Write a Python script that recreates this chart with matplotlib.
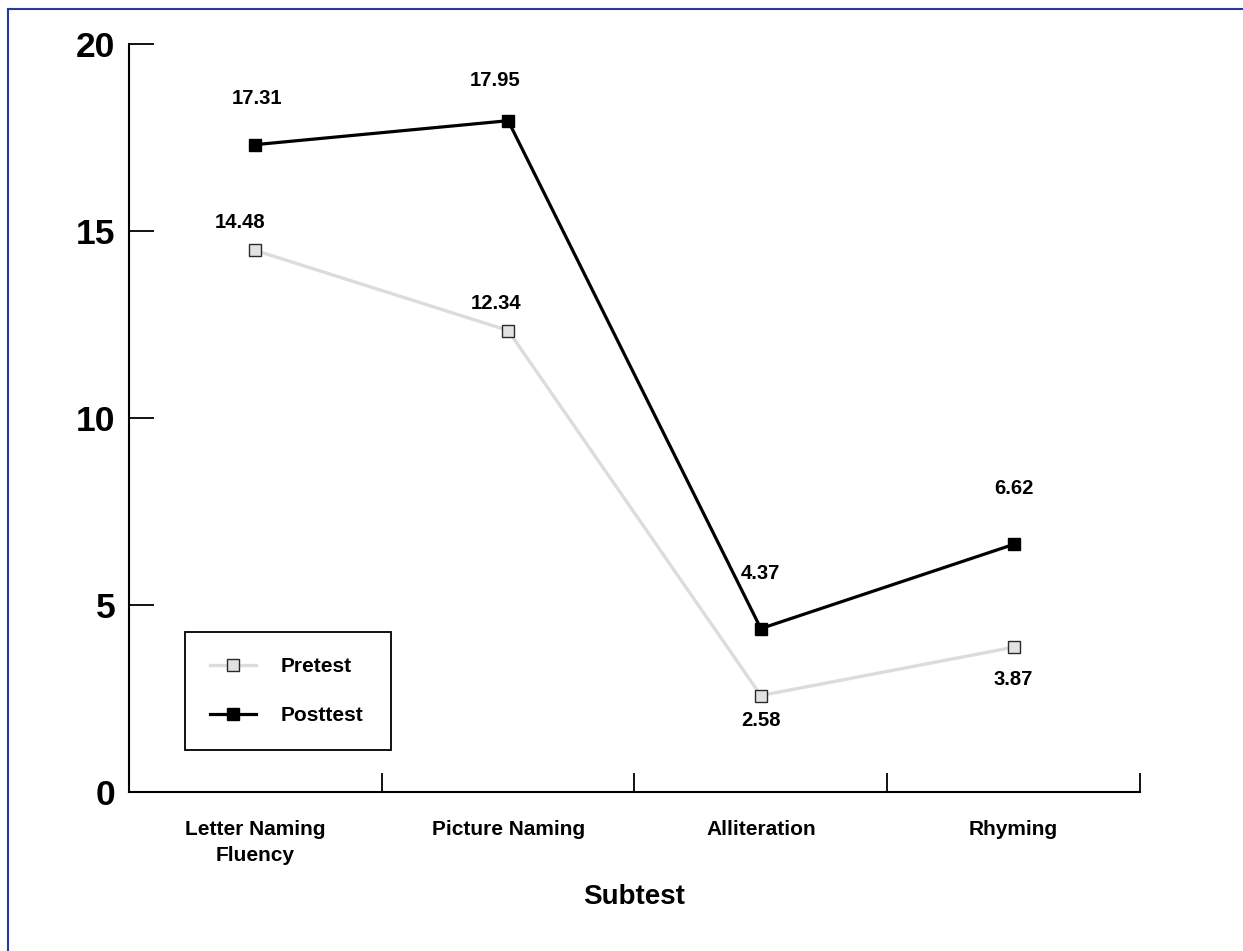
#!/usr/bin/env python3

import matplotlib

matplotlib.use("Agg")
import matplotlib.pyplot as plt
from matplotlib.lines import Line2D

subtests = ["Letter Naming\nFluency", "Picture Naming", "Alliteration", "Rhyming"]
pretest = [14.48, 12.34, 2.58, 3.87]
posttest = [17.31, 17.95, 4.37, 6.62]
y_ticks = [0, 5, 10, 15, 20]

# label offsets in pixels (dx, dy) relative to each marker
pre_offsets = [(-15, 28), (-12, 27), (0, -25), (0, -32)]
post_offsets = [(2, 46), (-13, 40), (0, 55), (0, 56)]

plt.rcParams["font.family"] = ["Liberation Sans", "DejaVu Sans"]
plt.rcParams["font.weight"] = "bold"

fig = plt.figure(figsize=(12.43, 9.51), dpi=100)
ax = fig.add_axes([0.1038, 0.1672, 0.8133, 0.7865])

x = list(range(len(subtests)))
ax.plot(x, pretest, color="#dcdcdc", linewidth=2.4, marker="s", markersize=9.2,
        markerfacecolor="#e2e2e4", markeredgecolor="#2a2a2a", markeredgewidth=1.0,
        label="Pretest", zorder=3)
ax.plot(x, posttest, color="black", linewidth=2.3, marker="s", markersize=8.8,
        markerfacecolor="black", markeredgecolor="black", label="Posttest", zorder=4)

for xi, v, (dx, dy) in zip(x, pretest, pre_offsets):
    ax.annotate(f"{v:.2f}", (xi, v), xytext=(dx, dy), textcoords="offset pixels",
                ha="center", va="center", fontsize=14.6, fontweight="bold")
for xi, v, (dx, dy) in zip(x, posttest, post_offsets):
    ax.annotate(f"{v:.2f}", (xi, v), xytext=(dx, dy), textcoords="offset pixels",
                ha="center", va="center", fontsize=14.6, fontweight="bold")

ax.set_xlim(-0.5, 3.5)
ax.set_ylim(0, 20)
ax.set_yticks(y_ticks)
ax.set_yticklabels([str(t) for t in y_ticks], fontsize=25.5, fontweight="bold")
ax.tick_params(axis="y", direction="in", length=18, width=1.3, pad=10)

ax.set_xticks(x)
ax.set_xticklabels(subtests, fontsize=15, fontweight="bold", linespacing=1.45)
ax.set_xticks([0.5, 1.5, 2.5, 3.5], minor=True)
ax.tick_params(axis="x", which="major", length=0, pad=20)
ax.tick_params(axis="x", which="minor", direction="in", length=14, width=1.3)
ax.set_xlabel("Subtest", fontsize=20, fontweight="bold", labelpad=14)

for side in ["top", "right"]:
    ax.spines[side].set_visible(False)
for side in ["left", "bottom"]:
    ax.spines[side].set_linewidth(1.5)

leg = ax.legend(loc="lower left", bbox_to_anchor=(0.0554, 0.056, 0.204, 0.16),
                mode="expand", borderaxespad=0, fancybox=False, edgecolor="black",
                framealpha=1, prop={"size": 15, "weight": "bold"}, borderpad=1.2,
                labelspacing=1.45, handlelength=2.2, handletextpad=1.2)
leg.get_frame().set_linewidth(1.3)

# thin blue border at top and left
fig.add_artist(Line2D([0.0068, 1.0], [0.991, 0.991], color="#26399c", linewidth=1.5))
fig.add_artist(Line2D([0.0068, 0.0068], [0.0, 0.991], color="#26399c", linewidth=1.5))

fig.savefig("out.png", dpi=100)
